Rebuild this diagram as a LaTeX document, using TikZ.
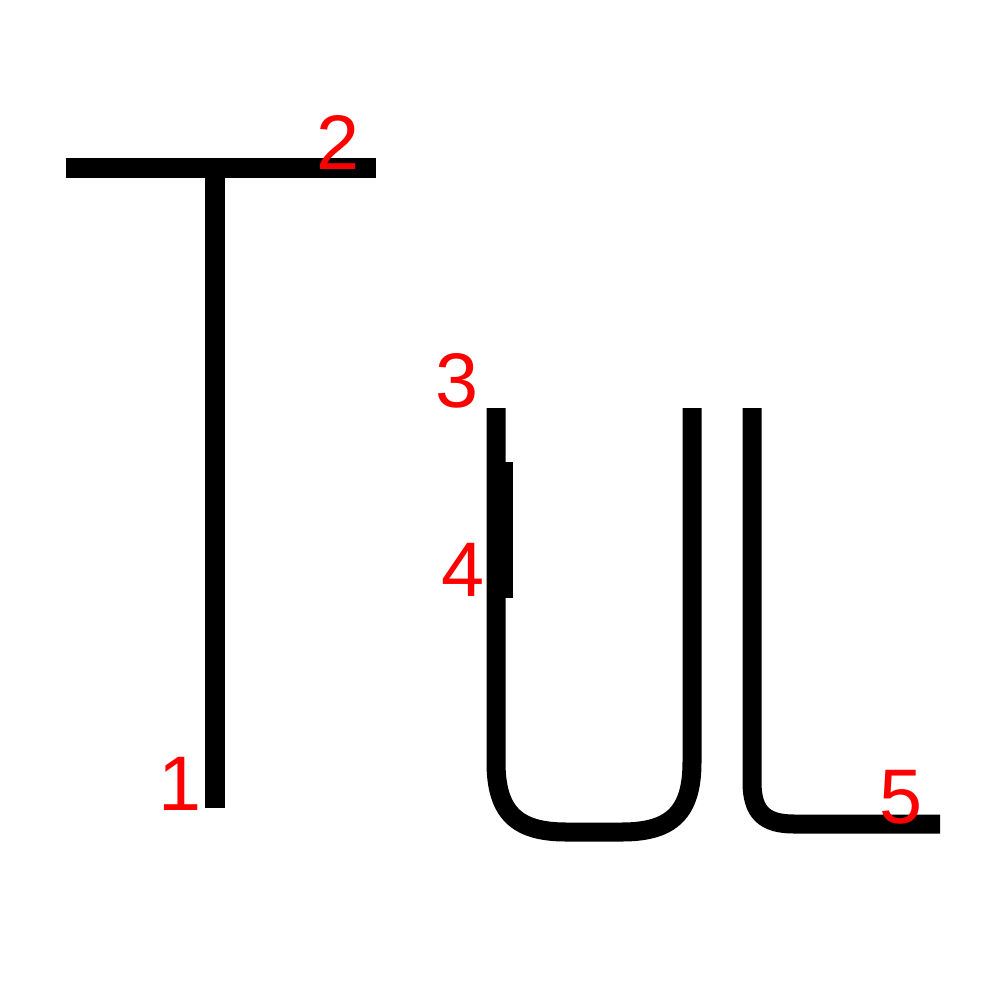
\documentclass[tikz,border=0pt]{standalone}
\usepackage{fontspec}
\setmainfont{Liberation Sans}
\usepackage{tikz}
\usetikzlibrary{positioning,calc}

\tikzset{
    pen/.style={line width=0.19cm, line cap=butt},
    num/.style={text=red, inner sep=0pt, font=\fontsize{22}{26}\selectfont}
}

\begin{document}
\begin{tikzpicture}[x=0.01cm, y=-0.01cm]
        \useasboundingbox (0,0) rectangle (1000,1000);

        % T stroke
        \draw[pen] (66,168) -- (376,168);
        \draw[pen] (215,168) -- (215,808);

        % U stroke
        \draw[pen] (496,408) -- (496,762) .. controls (496,812) and (516,832) .. (566,832)
            -- (622,832) .. controls (672,832) and (692,812) .. (692,762) -- (692,408);
        \draw[pen] (503,462) -- (503,598);

        % L stroke
        \draw[pen] (752,408) -- (752,782) .. controls (752,812) and (764,824) .. (794,824) -- (940,824);

        % Stroke numbers
        \node[num] (n1) at (180,784) {1};
        \node[num] (n2) at (338,142) {2};
        \node[num] (n3) at (457,381) {3};
        \node[num] (n4) at (463,570) {4};
        \node[num] (n5) at (901,797) {5};
    \end{tikzpicture}
\end{document}
